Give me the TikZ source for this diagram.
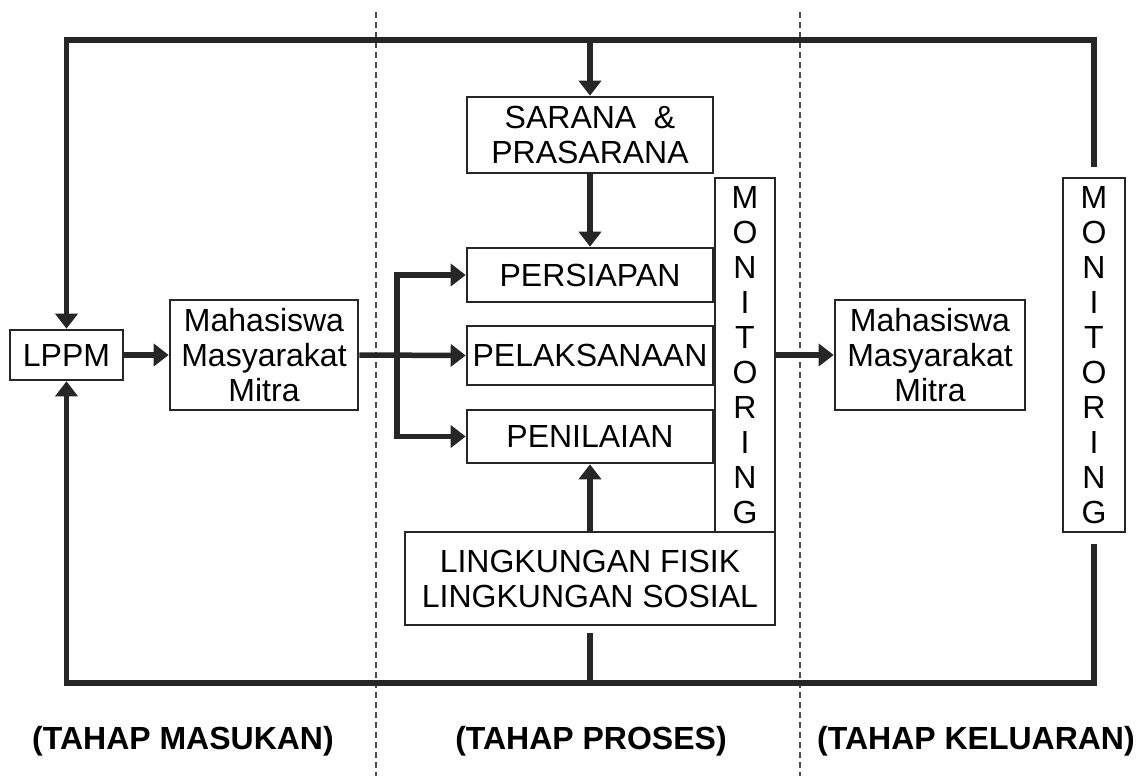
\documentclass[tikz,border=0pt]{standalone}
\usepackage{fontspec}
\setmainfont{Liberation Sans}
\usetikzlibrary{arrows.meta}
\tikzset{
  box/.style={draw=black!85, line width=2.6pt, inner sep=0pt, align=center,
              font=\fontsize{32}{35}\selectfont},
  conn/.style={draw=black!85, line width=5.5pt},
  tip/.style={-{Triangle[width=22pt,length=15pt]}},
  divider/.style={draw=black!70, line width=1.2pt, dash pattern=on 6pt off 4pt},
  stage/.style={font=\bfseries\fontsize{32}{35}\selectfont, inner sep=0pt}
}
\begin{document}
\begin{tikzpicture}[x=1pt,y=-1pt]
\useasboundingbox (0,0) rectangle (1138,776);
% dividers
\coordinate (d1t) at (376,12); \coordinate (d1b) at (376,776);
\coordinate (d2t) at (800,12); \coordinate (d2b) at (800,776);
\draw[divider] (d1t) -- (d1b);
\draw[divider] (d2t) -- (d2b);
% nodes
\node[box, minimum width=113pt, minimum height=50pt] (lppm) at (66.5,355) {LPPM};
\node[box, minimum width=188pt, minimum height=110pt] (mhsL) at (264,355) {Mahasiswa\\Masyarakat\\Mitra};
\node[box, minimum width=246pt, minimum height=76pt] (sar) at (590,135) {SARANA\hspace{0.55em}\&\\PRASARANA};
\node[box, minimum width=246pt, minimum height=54pt] (pers) at (590,275) {PERSIAPAN};
\node[box, minimum width=246pt, minimum height=59pt] (pelak) at (590,355.5) {PELAKSANAAN};
\node[box, minimum width=246pt, minimum height=53pt] (peni) at (590,436.5) {PENILAIAN};
\node[box, minimum width=60pt, minimum height=354pt] (mon1) at (745,355) {M\\O\\N\\I\\T\\O\\R\\I\\N\\G};
\node[box, minimum width=190pt, minimum height=110pt] (mhsR) at (930,355) {Mahasiswa\\Masyarakat\\Mitra};
\node[box, minimum width=62pt, minimum height=354pt] (mon2) at (1094,355) {M\\O\\N\\I\\T\\O\\R\\I\\N\\G};
\node[box, minimum width=370pt, minimum height=93pt] (ling) at (590,578.5) {LINGKUNGAN FISIK\\LINGKUNGAN SOSIAL};
% loop coordinates
\coordinate (topy) at (0,40);
\coordinate (boty) at (0,683);
\coordinate (br) at (397,355);
% connectors
\draw[conn, tip, shorten <=10pt] (mon2.north) |- (lppm.north |- topy) -- (lppm.north);
\draw[conn, tip] (sar.north |- topy) -- (sar.north);
\draw[conn, tip] (sar.south) -- (pers.north);
\draw[conn, tip] (lppm.east) -- (mhsL.west);
\draw[conn, tip] (mhsL.east) -- (pelak.west);
\draw[conn, tip] (br) |- (pers.west);
\draw[conn, tip] (br) |- (peni.west);
\draw[conn, tip] (ling.north -| peni.south) -- (peni.south);
\draw[conn, tip] (mon1.east) -- (mhsR.west);
\draw[conn, tip, shorten <=11pt] (mon2.south) |- (lppm.south |- boty) -- (lppm.south);
\draw[conn, shorten <=7pt] (ling.south) -- (ling.south |- boty);
% stage labels
\node[stage] (s1) at (183,741) {(TAHAP MASUKAN)};
\node[stage] (s2) at (591,741) {(TAHAP PROSES)};
\node[stage] (s3) at (976,741) {(TAHAP KELUARAN)};
\end{tikzpicture}
\end{document}
